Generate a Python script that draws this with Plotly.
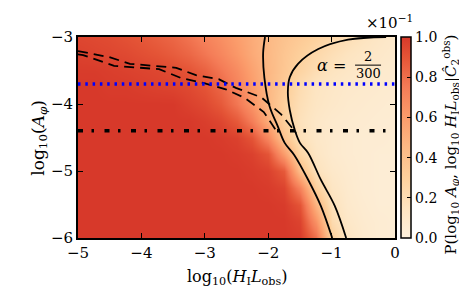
import plotly.graph_objects as go

# grid of the probability map
x_grid = [-5, -4.75, -4.5, -4.25, -4, -3.75, -3.5, -3.25, -3, -2.75, -2.5,
          -2.25, -2, -1.75, -1.5, -1.25, -1, -0.75, -0.5, -0.25, 0]
y_grid = [-6, -5.75, -5.5, -5.25, -5, -4.75, -4.5, -4.25, -4, -3.75, -3.5, -3.25, -3]
prob = [
    [1]*14 + [0.99, 0.80, 0.30, 0.14, 0.08, 0.05, 0.04],
    [1]*14 + [0.96, 0.64, 0.22, 0.11, 0.07, 0.05, 0.04],
    [1]*13 + [0.99, 0.90, 0.48, 0.17, 0.09, 0.06, 0.04, 0.04],
    [1]*12 + [0.99, 0.96, 0.72, 0.30, 0.13, 0.08, 0.05, 0.04, 0.04],
    [1]*11 + [0.99, 0.97, 0.88, 0.42, 0.17, 0.10, 0.07, 0.05, 0.04, 0.04],
    [1]*10 + [0.99, 0.97, 0.90, 0.60, 0.26, 0.13, 0.08, 0.06, 0.05, 0.04, 0.04],
    [1]*9 + [0.99, 0.97, 0.90, 0.70, 0.38, 0.18, 0.11, 0.08, 0.06, 0.05, 0.05, 0.04],
    [1]*8 + [0.98, 0.95, 0.88, 0.74, 0.52, 0.30, 0.17, 0.11, 0.08, 0.07, 0.06, 0.05, 0.05],
    [1]*7 + [0.97, 0.94, 0.88, 0.77, 0.63, 0.46, 0.30, 0.19, 0.13, 0.10, 0.08, 0.07, 0.06, 0.05],
    [1, 1, 0.99, 0.99, 0.98, 0.97, 0.96, 0.94, 0.90, 0.83, 0.72, 0.60, 0.46, 0.33, 0.21, 0.14, 0.11, 0.09, 0.08, 0.07, 0.06],
    [0.99, 0.99, 0.98, 0.97, 0.96, 0.95, 0.93, 0.90, 0.85, 0.77, 0.68, 0.57, 0.46, 0.36, 0.27, 0.20, 0.15, 0.12, 0.10, 0.08, 0.07],
    [0.97, 0.96, 0.95, 0.94, 0.92, 0.90, 0.87, 0.83, 0.77, 0.70, 0.62, 0.53, 0.45, 0.37, 0.30, 0.24, 0.19, 0.15, 0.12, 0.10, 0.08],
    [0.95, 0.94, 0.93, 0.91, 0.89, 0.86, 0.83, 0.78, 0.72, 0.66, 0.59, 0.52, 0.45, 0.39, 0.34, 0.29, 0.24, 0.20, 0.16, 0.12, 0.09],
]

# solid contour lines
solid1_x = [-2.05, -2.08, -2.06, -1.98, -1.85, -1.74, -1.59, -1.37, -1.17, -0.99]
solid1_y = [-3.00, -3.24, -3.61, -4.03, -4.33, -4.58, -4.76, -5.13, -5.52, -6.00]
solid2_x = [-0.14, -0.74, -1.21, -1.53, -1.66, -1.69, -1.66, -1.58, -1.50, -1.37, -1.17, -0.95, -0.77]
solid2_y = [-3.00, -3.04, -3.18, -3.40, -3.60, -3.82, -4.09, -4.39, -4.58, -4.73, -5.13, -5.52, -6.00]
# dashed contour lines
dashA_x = [-5.00, -4.95, -4.51, -4.18, -3.82, -3.45, -3.14, -2.78, -2.51, -2.11, -1.80, -1.56]
dashA_y = [-3.21, -3.22, -3.30, -3.40, -3.43, -3.46, -3.57, -3.63, -3.76, -3.90, -4.15, -4.43]
dashB_x = [-5.00, -4.92, -4.43, -4.07, -3.72, -3.38, -3.01, -2.67, -2.37, -2.07, -1.85]
dashB_y = [-3.26, -3.27, -3.43, -3.46, -3.48, -3.61, -3.69, -3.78, -3.91, -4.12, -4.43]
# horizontal reference levels
blue_level = -3.70
black_level = -4.40

cb_ticks = [0.0, 0.2, 0.4, 0.6, 0.8, 1.0]
x_ticks = [-5, -4, -3, -2, -1, 0]
y_ticks = [-6, -5, -4, -3]

def lab(v):
    return ("\u2212" + str(abs(v))) if v < 0 else str(v)

SERIF = "DejaVu Serif"
cs = [[0, '#fdf0dc'], [0.15, '#fde4c0'], [0.3, '#fdd09c'], [0.45, '#fcb985'],
      [0.6, '#fb9c6b'], [0.75, '#f47c57'], [0.9, '#e45436'], [1, '#d7392a']]

fig = go.Figure()
fig.add_trace(go.Heatmap(
    x=x_grid, y=y_grid, z=prob, zmin=0, zmax=1, zsmooth='best', colorscale=cs,
    colorbar=dict(x=1.019, xanchor='left', xpad=0, ypad=0, y=0.5, yanchor='middle',
                  len=1, lenmode='fraction', thickness=10, thicknessmode='pixels',
                  outlinewidth=1.5, outlinecolor='black',
                  ticks='inside', ticklen=4, tickcolor='black', tickwidth=1,
                  tickvals=cb_ticks, ticktext=[f"{v:.1f}" for v in cb_ticks],
                  tickfont=dict(family=SERIF, size=14, color='black')),
    showscale=True))

fig.add_trace(go.Scatter(x=solid1_x, y=solid1_y, mode='lines', line=dict(color='black', width=1.8), line_shape='spline'))
fig.add_trace(go.Scatter(x=solid2_x, y=solid2_y, mode='lines', line=dict(color='black', width=1.8), line_shape='spline'))
fig.add_trace(go.Scatter(x=dashA_x, y=dashA_y, mode='lines', line=dict(color='black', width=1.8, dash='10px,6px')))
fig.add_trace(go.Scatter(x=dashB_x, y=dashB_y, mode='lines', line=dict(color='black', width=1.8, dash='10px,6px')))
fig.add_trace(go.Scatter(x=[-5, 0], y=[blue_level, blue_level], mode='lines',
                         line=dict(color='#0000ff', width=3.5, dash='2.5px,4.8px')))
fig.add_trace(go.Scatter(x=[-5, 0], y=[black_level, black_level], mode='lines',
                         line=dict(color='black', width=3.5, dash='5px,8.5px,2.5px,10.5px')))

axis_common = dict(showgrid=False, zeroline=False, ticks='inside', ticklen=5, tickwidth=1,
                   tickcolor='black', mirror='allticks', showline=True, linewidth=2,
                   linecolor='black', tickfont=dict(family=SERIF, size=15, color='black'))
fig.update_xaxes(range=[-5, 0], tickvals=x_ticks, ticktext=[lab(v) for v in x_ticks], **axis_common)
fig.update_yaxes(range=[-6, -3], tickvals=y_ticks, ticktext=[lab(v) for v in y_ticks], **axis_common)

ann = [
    dict(text="log<sub>10</sub>(<i>H</i><sub>I</sub><i>L</i><sub>obs</sub>)", x=0.5, y=-0.135,
         yanchor='top', xref='paper', yref='paper', showarrow=False, font=dict(family=SERIF, size=16)),
    dict(text="log<sub>10</sub>(<i>A</i><sub><i>φ</i></sub>)", x=-0.165, y=0.5, textangle=-90,
         xref='paper', yref='paper', showarrow=False, font=dict(family=SERIF, size=17)),
    dict(text="P(log<sub>10</sub> <i>A</i><sub><i>φ</i></sub>, log<sub>10</sub> <i>H</i><sub>I</sub><i>L</i><sub>obs</sub>|<i>Ĉ</i><sub>2</sub><sup>obs</sup>)",
         x=1.215, y=0.463, textangle=-90, xref='paper', yref='paper', showarrow=False,
         font=dict(family=SERIF, size=15)),
    dict(text="×10<sup>−1</sup>", x=1.063, y=1.015, xanchor='right', yanchor='bottom',
         xref='paper', yref='paper', showarrow=False, font=dict(family=SERIF, size=15)),
    dict(text="<i>α</i> =", x=-1.0, y=-3.42, xref='x', yref='y', showarrow=False,
         font=dict(family=SERIF, size=16)),
    dict(text="2", x=-0.42, y=-3.29, xref='x', yref='y', showarrow=False,
         font=dict(family=SERIF, size=13)),
    dict(text="300", x=-0.42, y=-3.54, xref='x', yref='y', showarrow=False,
         font=dict(family=SERIF, size=13)),
]
fig.add_shape(type='line', x0=-0.63, x1=-0.22, y0=-3.42, y1=-3.42, xref='x', yref='y',
              line=dict(color='black', width=1))

fig.update_layout(width=467, height=288, margin=dict(l=70, r=80, t=29, b=58),
                  paper_bgcolor='white', plot_bgcolor='white', showlegend=False,
                  annotations=ann, font=dict(family=SERIF, color='black'))
fig.write_html("out.html")
